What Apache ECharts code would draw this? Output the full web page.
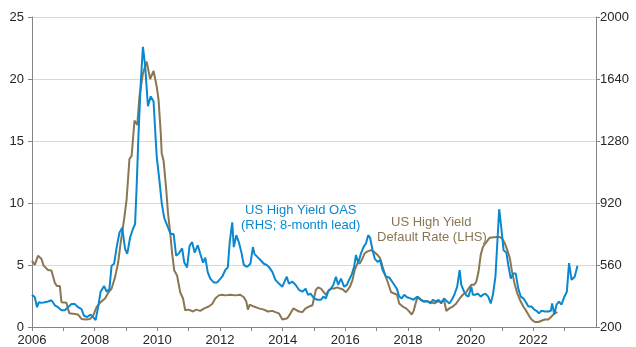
<!DOCTYPE html>
<html>
<head>
<meta charset="utf-8">
<script src="https://cdn.jsdelivr.net/npm/echarts@6/dist/echarts.min.js"></script>
<style>
  html, body { margin: 0; padding: 0; background: #fff; }
  #chart { width: 636px; height: 347px; }
</style>
</head>
<body>
<div id="chart"></div>
<script>
// US high yield default rate (%, left axis)
const defaultDates = [
  2006.00, 2006.09, 2006.19, 2006.30, 2006.37, 2006.51, 2006.62, 2006.73, 2006.80, 2006.89,
  2006.94, 2007.10, 2007.19, 2007.37, 2007.47, 2007.58, 2007.72, 2007.85, 2007.95, 2008.06,
  2008.17, 2008.33, 2008.43, 2008.54, 2008.65, 2008.70, 2008.75, 2008.83, 2008.94, 2009.02,
  2009.11, 2009.18, 2009.27, 2009.36, 2009.43, 2009.54, 2009.66, 2009.77, 2009.88, 2009.98,
  2010.04, 2010.11, 2010.14, 2010.20, 2010.28, 2010.34, 2010.41, 2010.47, 2010.54, 2010.63,
  2010.73, 2010.82, 2010.89, 2011.00, 2011.14, 2011.24, 2011.37, 2011.50, 2011.64, 2011.75,
  2011.85, 2011.96, 2012.07, 2012.17, 2012.33, 2012.49, 2012.65, 2012.76, 2012.84, 2012.89,
  2012.95, 2013.08, 2013.24, 2013.40, 2013.53, 2013.67, 2013.77, 2013.88, 2013.99, 2014.04,
  2014.15, 2014.25, 2014.34, 2014.41, 2014.52, 2014.63, 2014.73, 2014.84, 2014.95, 2015.00,
  2015.06, 2015.13, 2015.22, 2015.30, 2015.38, 2015.48, 2015.56, 2015.64, 2015.75, 2015.83,
  2015.91, 2016.02, 2016.07, 2016.15, 2016.23, 2016.30, 2016.39, 2016.47, 2016.55, 2016.62,
  2016.71, 2016.82, 2016.92, 2017.03, 2017.11, 2017.19, 2017.27, 2017.35, 2017.46, 2017.56,
  2017.65, 2017.72, 2017.83, 2017.94, 2018.04, 2018.12, 2018.18, 2018.26, 2018.31, 2018.42,
  2018.52, 2018.63, 2018.74, 2018.84, 2018.95, 2019.06, 2019.16, 2019.22, 2019.32, 2019.43,
  2019.54, 2019.65, 2019.75, 2019.86, 2019.93, 2020.02, 2020.11, 2020.18, 2020.25, 2020.32,
  2020.39, 2020.50, 2020.61, 2020.82, 2020.93, 2021.00, 2021.09, 2021.17, 2021.25, 2021.32,
  2021.41, 2021.49, 2021.57, 2021.68, 2021.75, 2021.84, 2021.94, 2022.05, 2022.16, 2022.26,
  2022.37, 2022.48, 2022.58, 2022.67, 2022.77
];
const defaultRate = [
  5.35, 5.0, 5.75, 5.5, 4.95, 4.6, 4.55, 3.55, 3.3, 3.3,
  2.0, 1.95, 1.1, 1.05, 1.0, 0.65, 0.6, 0.65, 0.9, 1.6,
  1.95, 2.3, 2.75, 3.1, 4.0, 4.05, 5.2, 6.8, 8.7, 10.3,
  13.55, 13.8, 16.65, 16.3, 18.6, 20.45, 21.4, 20.0, 20.65, 19.4,
  18.3, 15.6, 14.0, 13.4, 11.2, 9.2, 7.6, 6.0, 4.55, 4.15,
  2.8, 2.3, 1.35, 1.4, 1.25, 1.4, 1.3, 1.5, 1.65, 1.85,
  2.3, 2.55, 2.6, 2.55, 2.6, 2.55, 2.6, 2.4, 2.05, 1.4,
  1.8, 1.65, 1.5, 1.4, 1.25, 1.3, 1.2, 1.1, 0.6, 0.6,
  0.7, 1.1, 1.5, 1.4, 1.25, 1.2, 1.5, 1.65, 1.75, 1.9,
  3.0, 3.2, 3.1, 2.85, 2.6, 3.0, 3.1, 3.1, 3.2, 3.1,
  3.05, 2.8, 2.9, 3.25, 3.8, 4.6, 5.15, 5.15, 5.55, 5.95,
  6.1, 6.2, 6.05, 5.8, 5.55, 4.85, 4.2, 3.65, 2.8, 2.7,
  2.6, 1.9, 1.65, 1.5, 1.25, 1.0, 1.3, 2.05, 2.45, 2.2,
  2.05, 2.05, 2.0, 1.9, 2.05, 2.05, 2.1, 1.3, 1.5, 1.65,
  1.9, 2.3, 2.6, 2.8, 3.1, 3.4, 3.4, 3.65, 4.45, 5.8,
  6.45, 6.85, 7.2, 7.25, 7.25, 7.15, 6.75, 6.2, 5.55, 4.45,
  3.4, 2.7, 2.2, 1.65, 1.4, 1.0, 0.6, 0.4, 0.4, 0.5,
  0.6, 0.6, 0.85, 1.1, 1.2
];

// US high yield OAS (bp, right axis), shifted forward 8 months
const oasDates = [
  2006.00, 2006.09, 2006.16, 2006.22, 2006.30, 2006.41, 2006.51, 2006.62, 2006.73, 2006.83,
  2006.94, 2007.05, 2007.15, 2007.26, 2007.37, 2007.47, 2007.58, 2007.66, 2007.76, 2007.87,
  2007.95, 2008.03, 2008.11, 2008.19, 2008.30, 2008.38, 2008.47, 2008.54, 2008.62, 2008.70,
  2008.79, 2008.88, 2008.97, 2009.04, 2009.13, 2009.22, 2009.29, 2009.34, 2009.40, 2009.47,
  2009.54, 2009.61, 2009.70, 2009.79, 2009.88, 2009.93, 2009.98, 2010.07, 2010.14, 2010.22,
  2010.28, 2010.36, 2010.43, 2010.52, 2010.60, 2010.68, 2010.79, 2010.86, 2010.95, 2011.03,
  2011.11, 2011.19, 2011.29, 2011.37, 2011.46, 2011.53, 2011.61, 2011.69, 2011.80, 2011.91,
  2012.07, 2012.17, 2012.25, 2012.31, 2012.39, 2012.44, 2012.52, 2012.60, 2012.68, 2012.76,
  2012.87, 2012.97, 2013.05, 2013.10, 2013.19, 2013.29, 2013.40, 2013.49, 2013.56, 2013.67,
  2013.77, 2013.88, 2013.99, 2014.06, 2014.13, 2014.20,
  2014.31, 2014.41, 2014.52, 2014.63, 2014.73, 2014.81, 2014.89, 2015.00, 2015.11, 2015.22,
  2015.30, 2015.38, 2015.45, 2015.54, 2015.62, 2015.70, 2015.77, 2015.86, 2015.96, 2016.05,
  2016.12, 2016.20, 2016.28, 2016.34, 2016.41, 2016.50, 2016.58, 2016.66, 2016.73, 2016.79,
  2016.87, 2016.94, 2017.03, 2017.11, 2017.19, 2017.30, 2017.40,
  2017.56, 2017.65, 2017.72, 2017.80, 2017.88, 2017.97, 2018.08, 2018.18, 2018.29, 2018.33,
  2018.40, 2018.50, 2018.61, 2018.72, 2018.79, 2018.90, 2018.97, 2019.06, 2019.15, 2019.25,
  2019.32, 2019.40, 2019.48, 2019.57, 2019.65, 2019.70, 2019.79, 2019.86, 2019.93, 2020.02,
  2020.07, 2020.14, 2020.23, 2020.32, 2020.39, 2020.47, 2020.56, 2020.64,
  2020.71, 2020.79, 2020.84, 2020.91, 2020.98, 2021.05, 2021.14, 2021.20, 2021.28, 2021.36,
  2021.44, 2021.52, 2021.60, 2021.68, 2021.75, 2021.84, 2021.94, 2022.03, 2022.10, 2022.18,
  2022.26, 2022.37, 2022.48, 2022.56, 2022.60, 2022.67, 2022.74, 2022.82, 2022.90, 2022.99,
  2023.07, 2023.14, 2023.22, 2023.32, 2023.41
];
const oasSpread = [
  387, 373, 315, 344, 340, 344, 348, 355, 326, 315,
  297, 297, 315, 333, 333, 315, 304, 265, 258, 272,
  258, 240, 315, 405, 438, 405, 420, 556, 567, 661,
  747, 776, 654, 625, 718, 769, 798, 1017, 1323, 1615,
  1827, 1719, 1482, 1539, 1510, 1345, 1190, 1046, 920, 834,
  844, 769, 740, 740, 614, 625, 657, 574, 546, 672,
  693, 632, 675, 625, 574, 603, 517, 481, 459, 459,
  492, 531, 546, 693, 808, 664, 733, 693, 636, 560,
  549, 567, 664, 625, 607, 589, 567, 560, 549, 520,
  474, 452, 434, 463, 492, 452,
  463, 445, 416, 405, 423, 387, 394, 366, 358, 358,
  376, 366, 405, 423, 445, 492, 445, 481, 434, 445,
  474, 502, 549, 618, 571, 628, 664, 686, 733, 718,
  646, 596, 578, 589, 531, 492, 488,
  445, 420, 376, 366, 387, 373, 366, 358, 376, 387,
  358, 348, 351, 337, 358, 348, 358, 337, 366, 348,
  337, 358, 387, 434, 531, 445, 405, 384, 376, 434,
  387, 387, 394, 376, 387, 394, 376, 337,
  387, 492, 654, 884, 772, 646, 632, 560, 481, 510,
  510, 423, 376, 366, 348, 319, 319, 301, 294, 279,
  294, 290, 290, 294, 337, 272, 330, 348, 330, 376,
  405, 571, 474, 492, 556
];

// Axis setup
const leftMin = 0, leftMax = 25, leftStep = 5;
const rightMin = 200, rightMax = 2000, rightStep = 360;
const yearMin = 2006, yearMax = 2024;

const BLUE = '#0a88cf';
const BROWN = '#8b7654';
const FONT = '"Liberation Sans", Arial, sans-serif';
const AXIS_GREY = '#858585';

const zip = (xs, ys) => xs.map((x, i) => [x, ys[i]]);

const chart = echarts.init(document.getElementById('chart'), null, { renderer: 'canvas' });

chart.setOption({
  animation: false,
  backgroundColor: '#ffffff',
  textStyle: { fontFamily: FONT },
  grid: { left: 32, right: 40, top: 17, bottom: 18, containLabel: false },
  xAxis: {
    type: 'value',
    min: yearMin,
    max: yearMax,
    interval: 1,
    axisLine: { show: true, lineStyle: { color: AXIS_GREY, width: 1 } },
    axisTick: { show: true, length: 4, lineStyle: { color: AXIS_GREY } },
    splitLine: { show: false },
    axisLabel: {
      margin: 7,
      fontSize: 13,
      color: '#262626',
      fontFamily: FONT,
      showMaxLabel: false,
      formatter: v => (v % 2 === 0 && v < yearMax) ? String(v) : ''
    }
  },
  yAxis: [
    {
      type: 'value',
      position: 'left',
      min: leftMin,
      max: leftMax,
      interval: leftStep,
      axisLine: { show: true, lineStyle: { color: AXIS_GREY, width: 1 } },
      axisTick: { show: true, length: 4, lineStyle: { color: AXIS_GREY } },
      splitLine: { show: true, lineStyle: { color: '#d9d9d9', width: 1 } },
      axisLabel: { margin: 8, fontSize: 13, color: '#262626', fontFamily: FONT, formatter: v => String(v) }
    },
    {
      type: 'value',
      position: 'right',
      min: rightMin,
      max: rightMax,
      interval: rightStep,
      axisLine: { show: true, lineStyle: { color: AXIS_GREY, width: 1 } },
      axisTick: { show: true, length: 4, lineStyle: { color: AXIS_GREY } },
      splitLine: { show: false },
      axisLabel: { margin: 4, fontSize: 13, color: '#262626', fontFamily: FONT, formatter: v => String(v) }
    }
  ],
  series: [
    {
      name: 'US High Yield Default Rate (LHS)',
      type: 'line',
      yAxisIndex: 0,
      data: zip(defaultDates, defaultRate),
      showSymbol: false,
      lineStyle: { color: BROWN, width: 2 },
      z: 2
    },
    {
      name: 'US High Yield OAS (RHS; 8-month lead)',
      type: 'line',
      yAxisIndex: 1,
      data: zip(oasDates, oasSpread),
      showSymbol: false,
      lineStyle: { color: BLUE, width: 2 },
      z: 3
    }
  ],
  graphic: [
    {
      type: 'text',
      left: 245, top: 204,
      style: { text: 'US High Yield OAS', fill: BLUE, font: '13px ' + FONT }
    },
    {
      type: 'text',
      left: 241, top: 219,
      style: { text: '(RHS; 8-month lead)', fill: BLUE, font: '13px ' + FONT }
    },
    {
      type: 'text',
      left: 391, top: 216,
      style: { text: 'US High Yield', fill: BROWN, font: '13px ' + FONT }
    },
    {
      type: 'text',
      left: 377, top: 231,
      style: { text: 'Default Rate (LHS)', fill: BROWN, font: '13px ' + FONT }
    }
  ]
});
</script>
</body>
</html>
